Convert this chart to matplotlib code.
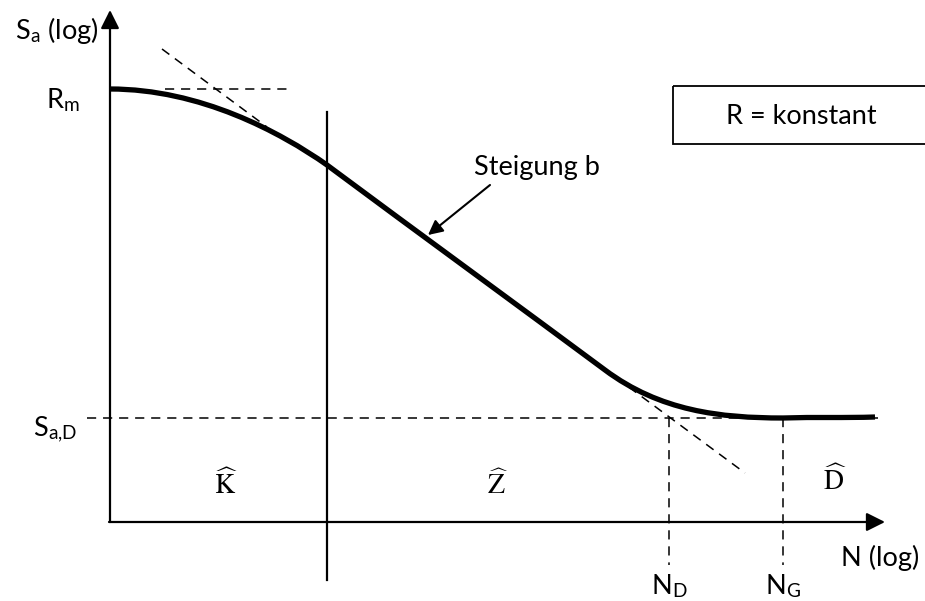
import matplotlib.pyplot as plt
from matplotlib.path import Path
from matplotlib.patches import PathPatch

plt.rcParams['font.family'] = ['Lato', 'DejaVu Sans']
plt.rcParams['mathtext.fontset'] = 'stix'

# schematic Woehler curve as cubic Bezier pieces, drawing units (x right, y down)
curve_x = [110, 200, 280, 327, 420, 520, 605, 660, 720, 783, 815, 845, 875]
curve_y = [89, 89, 132, 165, 234, 307, 370, 411, 418, 418, 417, 418, 417]

origin = (110, 522)
x_end = 885
y_end = 10

r_m = 89          # level of Rm
s_ad = 418        # level of Sa,D
n_d = 669
n_g = 783
boundary_kz = 327

upper_tangent = ([162, 267], [49, 127])
lower_tangent = ([603, 745], [368, 473])

region_labels = [r'$\widehat{\mathrm{K}}$', r'$\widehat{\mathrm{Z}}$', r'$\widehat{\mathrm{D}}$']
region_x = [226, 498, 835]
region_y = [484, 484, 480]

FS = 19.5

fig = plt.figure(figsize=(9.25, 6.01), dpi=100)
ax = fig.add_axes([0, 0, 1, 1])
ax.set_xlim(0, 925)
ax.set_ylim(601, 0)
ax.axis('off')

dash = dict(color='black', lw=1.1, ls=(0, (6, 4.5)))

# axes with arrow heads
ax.annotate('', xy=(origin[0], y_end), xytext=origin,
            arrowprops=dict(arrowstyle='-|>', color='black', lw=1.6, mutation_scale=28, shrinkA=0, shrinkB=0))
ax.annotate('', xy=(x_end, origin[1]), xytext=(origin[0] - 1, origin[1]),
            arrowprops=dict(arrowstyle='-|>', color='black', lw=1.6, mutation_scale=28, shrinkA=0, shrinkB=0))

# helper lines
ax.plot([165, 293], [r_m, r_m], **dash)
ax.plot(*upper_tangent, **dash)
ax.plot(*lower_tangent, **dash)
ax.plot([87, 878], [s_ad, s_ad], **dash)
ax.plot([n_d, n_d], [s_ad, 565], **dash)
ax.plot([n_g, n_g], [s_ad, 565], **dash)
ax.plot([boundary_kz, boundary_kz], [112, 580], color='black', lw=1.6)

# the curve itself
codes = [Path.MOVETO] + [Path.CURVE4] * (len(curve_x) - 1)
curve = Path(list(zip(curve_x, curve_y)), codes)
ax.add_patch(PathPatch(curve, fill=False, lw=3.8, ec='black', capstyle='butt'))

# slope annotation
ax.annotate('', xy=(428, 235), xytext=(490, 185),
            arrowprops=dict(arrowstyle='-|>', color='black', lw=1.5, mutation_scale=22, shrinkA=0, shrinkB=0))
ax.text(537, 168, 'Steigung b', fontsize=FS, ha='center', va='center')

# box
ax.add_patch(plt.Rectangle((673, 86), 300, 58, fill=False, lw=1.3, ec='black', clip_on=True))
ax.text(801, 116, 'R = konstant', fontsize=FS, ha='center', va='center')

# axis labels
ax.text(57, 30, r'S$_\mathregular{a}$ (log)', fontsize=FS, ha='center', va='center')
ax.text(63, 100, r'R$_\mathregular{m}$', fontsize=FS, ha='center', va='center')
ax.text(55, 430, r'S$_\mathregular{a{,}D}$', fontsize=FS, ha='center', va='center')
ax.text(880, 558, 'N (log)', fontsize=FS, ha='center', va='center')
ax.text(n_d, 586, r'N$_\mathregular{D}$', fontsize=FS, ha='center', va='center')
ax.text(n_g, 586, r'N$_\mathregular{G}$', fontsize=FS, ha='center', va='center')

for lab, lx, ly in zip(region_labels, region_x, region_y):
    ax.text(lx, ly, lab, fontsize=20, ha='center', va='center')

fig.savefig('out.png', dpi=100)
